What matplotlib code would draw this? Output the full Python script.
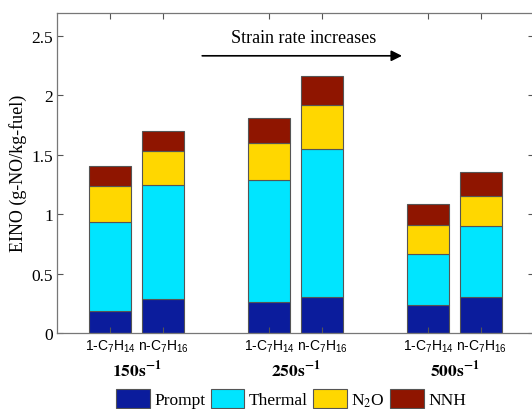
import matplotlib.pyplot as plt
import numpy as np

plt.rcParams['font.family'] = ['Liberation Serif', 'DejaVu Serif']
plt.rcParams['mathtext.fontset'] = 'custom'
plt.rcParams['mathtext.rm'] = 'Liberation Sans'
plt.rcParams['mathtext.it'] = 'Liberation Sans:italic'
plt.rcParams['mathtext.bf'] = 'Liberation Sans:bold'

# EINO contributions per pathway (g-NO/kg-fuel)
fuels = ['1-C$_7$H$_{14}$', 'n-C$_7$H$_{16}$'] * 3
strain_rates = ['150', '250', '500']
prompt = [0.185, 0.286, 0.26, 0.30, 0.235, 0.30]
thermal = [0.75, 0.958, 1.025, 1.246, 0.43, 0.60]
n2o = [0.30, 0.286, 0.315, 0.374, 0.243, 0.251]
nnh = [0.165, 0.17, 0.21, 0.24, 0.176, 0.202]

pos = np.array([1, 2, 4, 5, 7, 8])
colors = ['#0b1c9c', '#00e5ff', '#ffd700', '#8f1500']
names = ['Prompt', 'Thermal', 'N$_2$O', 'NNH']

fig = plt.figure(figsize=(5.32, 4.10), dpi=100)
ax = fig.add_axes([0.1071, 0.1854, 0.8966, 0.7805])

bottom = np.zeros(len(pos))
for vals, c, name in zip([prompt, thermal, n2o, nnh], colors, names):
    ax.bar(pos, vals, 0.8, bottom=bottom, color=c, edgecolor='#555555',
           linewidth=0.8, label=name)
    bottom += np.array(vals)

ax.set_xlim(0, 9)
ax.set_ylim(0, 2.69)
ax.set_yticks([0, 0.5, 1, 1.5, 2, 2.5])
ax.set_yticklabels(['0', '0.5', '1', '1.5', '2', '2.5'])
ax.set_xticks(pos)
ax.set_xticklabels(fuels, fontsize=10, family='Liberation Sans')
ax.tick_params(axis='both', direction='in', top=True, right=True, length=4,
               width=0.8, color='#555555')
ax.tick_params(axis='y', labelsize=12.5, pad=3)
ax.tick_params(axis='x', pad=3)
for s in ax.spines.values():
    s.set_color('#777777')
    s.set_linewidth(0.9)

# strain rate under each pair of bars
for i, sr in enumerate(strain_rates):
    xc = (pos[2 * i] + pos[2 * i + 1]) / 2
    ax.text(xc, -0.1125, r'$\mathbf{' + sr + r's^{-1}}$', transform=ax.get_xaxis_transform(),
            ha='center', va='center', fontsize=12.5, math_fontfamily='stix')

fig.text(18 / 532, 0.578, 'EINO (g-NO/kg-fuel)', rotation=90, ha='center',
         va='center', fontsize=13)

ax.annotate('', xy=(6.51, 2.33), xytext=(2.74, 2.33),
            arrowprops=dict(arrowstyle='-|>', color='black', lw=1.2,
                            mutation_scale=16, shrinkA=0, shrinkB=0))
ax.text(4.66, 2.48, 'Strain rate increases', ha='center', va='center', fontsize=13)

leg = fig.legend(loc='center', bbox_to_anchor=(0.547, 0.025), ncol=4,
                 frameon=False, fontsize=12.5, handlelength=1.95,
                 handleheight=1.3, handletextpad=0.25, columnspacing=0.3,
                 borderpad=0)
for t in leg.get_texts():
    t.set_math_fontfamily('stix')

fig.savefig('out.png', dpi=100)
